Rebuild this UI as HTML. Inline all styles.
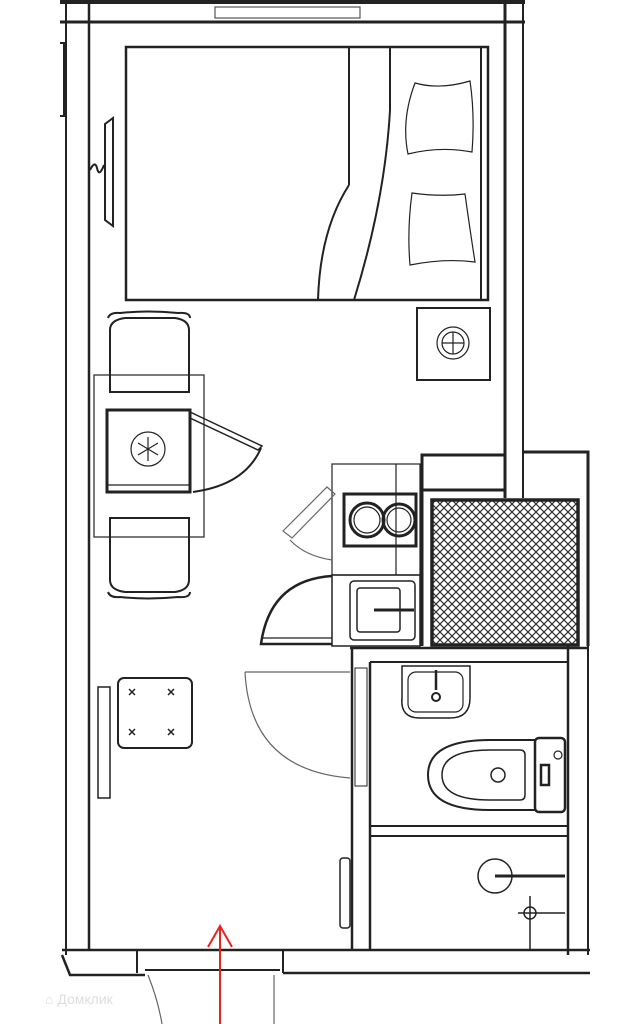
<!DOCTYPE html>
<html><head><meta charset="utf-8"><style>
html,body{margin:0;padding:0;background:#fff;width:632px;height:1024px;overflow:hidden}
svg{display:block}
</style></head><body>
<svg width="632" height="1024" viewBox="0 0 632 1024" xmlns="http://www.w3.org/2000/svg">
<defs>
<pattern id="hx" width="8" height="8" patternUnits="userSpaceOnUse">
<path d="M0 0L8 8M8 0L0 8" stroke="#333" stroke-width="1.2"/>
</pattern>
</defs>
<g fill="none" stroke="#222" stroke-width="2">
<line x1="60" y1="2" x2="525" y2="2" stroke-width="4"/>
<line x1="60" y1="22" x2="525" y2="22" stroke-width="3"/>
<line x1="66" y1="0" x2="66" y2="955"/>
<line x1="89" y1="0" x2="89" y2="950" stroke-width="2.5"/>
<line x1="505" y1="0" x2="505" y2="498" stroke-width="3"/>
<line x1="523" y1="0" x2="523" y2="498" stroke-width="2"/>
<rect x="215" y="7" width="145" height="11" stroke="#555" stroke-width="1.2"/>
<path d="M60 43H64V116H60" stroke-width="2"/>
<path d="M105 124L113 118V226L105 220Z" stroke-width="2"/>
<path d="M90 170Q95 160 97 168Q99 178 104 165"/>
<rect x="126" y="47" width="362" height="253" stroke-width="2.5"/>
<line x1="349" y1="47" x2="349" y2="185"/>
<line x1="390" y1="47" x2="390" y2="110"/>
<line x1="481" y1="47" x2="481" y2="300"/>
<path d="M349 185Q320 230 318 300"/>
<path d="M390 110Q385 200 354 300"/>
<path d="M415 83Q440 90 470 81Q475 115 472 152Q440 146 408 154Q401 120 415 83Z" stroke-width="1.2"/>
<path d="M412 193Q440 197 465 194Q470 230 475 262Q445 258 410 265Q407 230 412 193Z" stroke-width="1.2"/>
<rect x="417" y="308" width="73" height="72"/>
<circle cx="453" cy="343" r="16" stroke-width="1.2"/>
<circle cx="453" cy="343" r="11" stroke-width="1.2"/>
<path d="M442 343H464M453 332V354" stroke-width="1.2"/>
<rect x="94" y="375" width="110" height="162" stroke-width="1.2"/>
<path d="M110 392V330Q110 320 125 318H175Q189 320 189 330V392Z M108 318Q110 312 120 313Q148 310 178 313Q190 312 190 318" stroke-width="2"/>
<path d="M110 518V580Q110 590 125 592H175Q189 590 189 580V518Z M108 592Q110 598 120 597Q148 600 178 597Q190 598 190 592" stroke-width="2"/>
<rect x="107" y="410" width="83" height="82" stroke-width="3"/>
<line x1="107" y1="485" x2="190" y2="485" stroke-width="1.2"/>
<circle cx="148" cy="449" r="17" stroke-width="1.2"/>
<path d="M148 437V461M138 443L158 455M138 455L158 443" stroke-width="1.2"/>
<path d="M190 412L262 446L258 450L190 418Z" stroke-width="1.5"/>
<path d="M261 448Q245 485 193 492" stroke-width="2"/>
<rect x="332" y="464" width="88" height="111" stroke-width="1.2"/>
<line x1="396" y1="464" x2="396" y2="575" stroke-width="1.2"/>
<rect x="344" y="494" width="72" height="52" stroke-width="3"/>
<circle cx="367" cy="520" r="17" stroke-width="3"/>
<circle cx="367" cy="520" r="13" stroke-width="1.2"/>
<circle cx="399" cy="520" r="16" stroke-width="3"/>
<circle cx="399" cy="520" r="12" stroke-width="1.2"/>
<path d="M283 531L327 487L335 494L292 538Z" stroke="#666" stroke-width="1.2"/>
<path d="M290 540Q305 556 332 560" stroke="#666" stroke-width="1.2"/>
<rect x="332" y="575" width="88" height="71" stroke-width="1.5"/>
<rect x="350" y="581" width="65" height="59" rx="4" stroke-width="1.5"/>
<rect x="357" y="588" width="43" height="44" rx="3" stroke-width="1.5"/>
<path d="M374 610H414" stroke-width="3"/>
<path d="M332 576Q270 580 261 644H332" stroke-width="2.5"/>
<line x1="262" y1="638" x2="332" y2="638" stroke-width="1.2"/>
<path d="M422 646V455H505M523 452H588V646" stroke-width="3"/>
<line x1="422" y1="490" x2="505" y2="490" stroke-width="3"/>
<rect x="432" y="500" width="146" height="145" fill="url(#hx)" stroke-width="3.5"/>
<line x1="588" y1="646" x2="588" y2="955" stroke-width="2"/>
<line x1="568" y1="646" x2="568" y2="955" stroke-width="2.5"/>
<line x1="350" y1="648" x2="588" y2="648" stroke-width="2.5"/>
<line x1="352" y1="648" x2="352" y2="950" stroke-width="2.5"/>
<line x1="370" y1="662" x2="370" y2="950" stroke-width="2.5"/>
<line x1="370" y1="662" x2="568" y2="662" stroke-width="2"/>
<rect x="355" y="668" width="12" height="118" stroke-width="1"/>
<line x1="370" y1="826" x2="568" y2="826" stroke-width="2"/>
<line x1="370" y1="836" x2="568" y2="836" stroke-width="2"/>
<path d="M402 666H470V698Q470 718 450 718H420Q400 718 402 698Z" stroke-width="1.5"/>
<rect x="408" y="672" width="55" height="40" rx="8" stroke-width="1.2"/>
<path d="M436 670V690" stroke-width="2.5"/>
<circle cx="436" cy="697" r="4" stroke-width="2"/>
<path d="M535 740H490Q428 740 428 775Q428 810 490 810H535Z" stroke-width="2"/>
<path d="M520 750H490Q442 750 442 775Q442 800 490 800H520Q525 800 525 795V755Q525 750 520 750Z" stroke-width="1.5"/>
<circle cx="498" cy="775" r="7" stroke-width="1.5"/>
<rect x="535" y="738" width="30" height="74" rx="4" stroke-width="2.5"/>
<circle cx="558" cy="755" r="4" stroke-width="1.2"/>
<rect x="541" y="765" width="8" height="20" stroke-width="2.5"/>
<circle cx="495" cy="876" r="17" stroke-width="1.5"/>
<path d="M495 876H565" stroke-width="3"/>
<circle cx="530" cy="913" r="6" stroke-width="1.5"/>
<path d="M518 913H565M530 896V950" stroke-width="1.5"/>
<rect x="98" y="687" width="12" height="111" stroke-width="1.5"/>
<rect x="118" y="678" width="74" height="70" rx="6" stroke-width="2"/>
<g stroke-width="1.5">
<path d="M129 689l6 6M135 689l-6 6M168 689l6 6M174 689l-6 6M129 729l6 6M135 729l-6 6M168 729l6 6M174 729l-6 6"/>
</g>
<path d="M245 672H350" stroke="#666" stroke-width="1.2"/>
<path d="M245 672Q250 770 350 778" stroke="#666" stroke-width="1.2"/>
<rect x="340" y="858" width="10" height="70" rx="3" stroke-width="1.5"/>
<path d="M62 950H590M62 955L70 975H145M283 973H590" stroke-width="2.5"/>
<path d="M137 950V973M283 950V973M145 970H280" stroke-width="2"/>
<path d="M274 975V1024" stroke="#666" stroke-width="1.2"/>
<path d="M148 975Q158 1000 162 1024" stroke="#666" stroke-width="1.2"/>
</g>
<path d="M220 1024V926M208 947L220 926L232 947" fill="none" stroke="#e8231e" stroke-width="2"/>
<text x="45" y="1004" font-family="Liberation Sans, DejaVu Sans, sans-serif" font-size="14" fill="#ddd">⌂ Домклик</text>
</svg>
</body></html>
